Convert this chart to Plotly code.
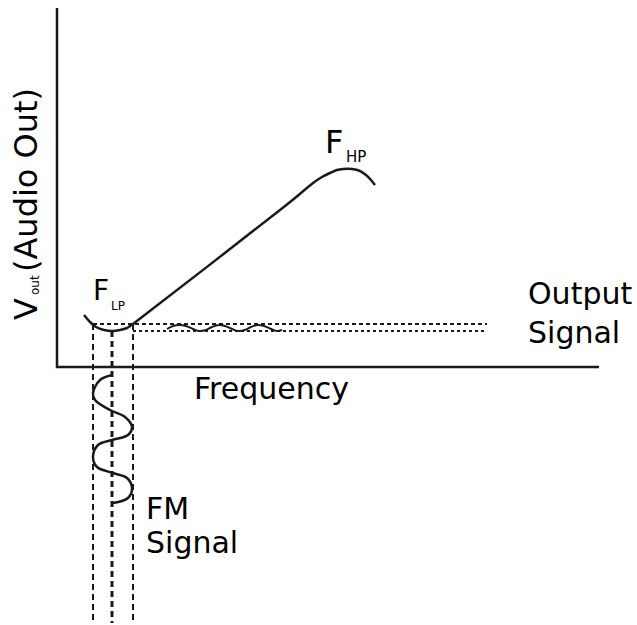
import plotly.graph_objects as go

# ---- diagram data (pixel-space coordinates) ----
axis_x = [57, 57, 599]
axis_y = [8, 367, 367]

response_x = [84, 90, 96, 104, 112, 120, 127, 133, 280, 295, 313, 322, 330, 337, 343, 352, 360, 366, 371, 375]
response_y = [315, 322, 327, 330, 331, 330, 328, 324, 210, 198, 183, 177, 173, 170, 169, 169, 171, 175, 180, 185]

output_wave_x = [167, 173, 180, 186, 193, 199, 206, 212, 219, 225, 232, 238, 245, 251, 258, 264, 271, 277, 282]
output_wave_y = [329, 326, 325, 326, 329, 331, 330, 327, 325, 326, 329, 331, 330, 327, 325, 326, 329, 331, 330]

fm_wave_x = [112, 100, 93, 95, 110, 125, 132, 128, 112, 98, 93, 97, 113, 127, 132, 128, 113]
fm_wave_y = [375, 380, 393, 400, 410, 417, 427, 435, 440, 445, 457, 467, 473, 478, 488, 498, 503]

upper_dash_x = [93, 487]
upper_dash_y = [324, 324]
lower_dash_x = [133, 487]
lower_dash_y = [331, 331]

vert_dash_x = [93, 112, 133]
vert_dash_top = [324, 331, 324]
vert_dash_bottom = [623, 623, 623]
vert_dash_width = [2, 3, 2]

FONT = "DejaVu Sans, Arial, sans-serif"
INK = "#1a1a1a"

fig = go.Figure()

# axes
fig.add_trace(go.Scatter(x=axis_x, y=axis_y, mode="lines",
                         line=dict(color=INK, width=2.5), hoverinfo="skip"))

# dashed guides
fig.add_trace(go.Scatter(x=upper_dash_x, y=upper_dash_y, mode="lines",
                         line=dict(color=INK, width=2, dash="4px,3px"), hoverinfo="skip"))
fig.add_trace(go.Scatter(x=lower_dash_x, y=lower_dash_y, mode="lines",
                         line=dict(color=INK, width=2, dash="3px,3px"), hoverinfo="skip"))
for vx, vt, vb, vw in zip(vert_dash_x, vert_dash_top, vert_dash_bottom, vert_dash_width):
    fig.add_trace(go.Scatter(x=[vx, vx], y=[vt, vb], mode="lines",
                             line=dict(color=INK, width=vw, dash="6px,4px"), hoverinfo="skip"))

# response curve
fig.add_trace(go.Scatter(x=response_x, y=response_y, mode="lines",
                         line=dict(color=INK, width=2.5, shape="spline", smoothing=0.6),
                         hoverinfo="skip"))
# output signal wiggle
fig.add_trace(go.Scatter(x=output_wave_x, y=output_wave_y, mode="lines",
                         line=dict(color=INK, width=2, shape="spline", smoothing=1),
                         hoverinfo="skip"))
# FM signal
fig.add_trace(go.Scatter(x=fm_wave_x, y=fm_wave_y, mode="lines",
                         line=dict(color=INK, width=2.5, shape="spline", smoothing=1),
                         hoverinfo="skip"))

def txt(x, y, s, size, xanchor="left", angle=0):
    fig.add_annotation(x=x, y=y, text=s, showarrow=False, xanchor=xanchor, yanchor="middle",
                       textangle=angle, font=dict(family=FONT, size=size, color="#000"))

txt(271, 388, "Frequency", 30, xanchor="center")
txt(526, 293, "Output", 30)
txt(526, 332, "Signal", 30)
txt(144, 508, "FM", 30)
txt(144, 542, "Signal", 30)
txt(323, 142, "F", 32)
txt(344, 157, "HP", 15)
txt(91, 290, "F", 28)
txt(109, 306, "LP", 12)
# rotated y label
txt(26, 180, "(Audio Out)", 32, xanchor="center", angle=-90)
txt(26, 309, "V", 32, xanchor="center", angle=-90)
txt(35, 285, "out", 12, xanchor="center", angle=-90)

fig.update_layout(
    width=637, height=625,
    margin=dict(l=0, r=0, t=0, b=0),
    paper_bgcolor="white", plot_bgcolor="white",
    showlegend=False,
    xaxis=dict(range=[0, 637], visible=False, fixedrange=True),
    yaxis=dict(range=[625, 0], visible=False, fixedrange=True),
)

fig.write_html("out.html", config={"displayModeBar": False},
               post_script="document.body.style.margin='0';document.body.style.overflow='hidden';")
